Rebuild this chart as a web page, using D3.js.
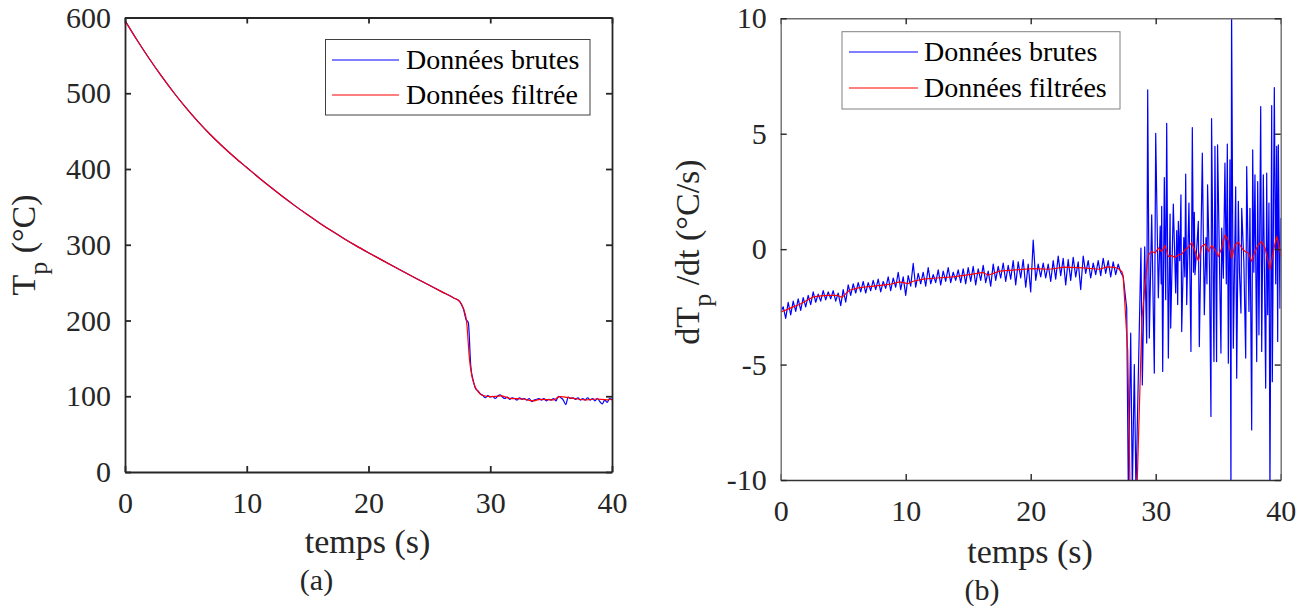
<!DOCTYPE html>
<html><head><meta charset="utf-8">
<script src="https://cdn.jsdelivr.net/npm/d3@7"></script>
<style>body{margin:0;background:#fff}</style>
</head><body><svg id="c" width="1309" height="611"></svg>
<script>
// ---------- DATA ----------
const xTicks = [0, 10, 20, 30, 40];
const tempTicks = [0, 100, 200, 300, 400, 500, 600];
const derivTicks = [-10, -5, 0, 5, 10];

// (a) filtered temperature Tp (°C)
const filtTempT = [0,1,2,3,4,5,6,7,8,9,10,11,12,13,14,15,16,17,18,19,20,21,22,23,24,25,26,27,27.5,27.8,28.06,28.3,28.5,28.75,29.0,29.3,30.0,30.9,31.6,32.7,33.5,34.1,35.2,35.7,36.8,37.9,38.7,39.6,40];
const filtTempV = [596,570,545.5,522.5,501,481,462.5,445.5,430,415.5,402,388.5,375.5,363,351,339.5,328.5,318,308,298.5,289.5,280.7,272,263.4,254.9,246.5,238.1,229.8,225,216,198,148,126,113,106,101.7,99.5,100.4,97.3,96.4,93.8,96,95.1,99.5,97.3,95.1,96.4,95.1,96.4];
// (a) raw temperature tail, from 27.6 s every 0.2 s (before that raw = filtered)
const rawTempTailStart = 27.6, rawTempTailStep = 0.2;
const rawTempTail = [222,215,202,197,140,121,110,107,103,101,98,101,99,100,97,100,102,99,97,99,96,98,97,95,98,96,97,95,97,93,95,96,97,95,97,94,96,95,97,94,100,98,95,89,99,97,98,96,98,95,97,95,98,95,97,94,97,93,90,95,92,97,95];

// (b) raw derivative dTp/dt (°C/s), 0 .. 27.4 s every 0.2 s
const rawDerivStep = 0.2;
const rawDerivEarly = [
-2.72,-2.50,-3.00,-2.30,-2.85,-2.25,-2.70,-2.15,-2.65,-2.10,
-2.50,-2.00,-2.40,-1.85,-2.30,-1.95,-2.25,-1.80,-2.20,-1.85,
-2.15,-1.80,-2.25,-1.90,-2.45,-1.75,-2.30,-1.55,-2.00,-1.50,
-1.90,-1.45,-1.85,-1.40,-1.90,-1.45,-1.80,-1.35,-1.75,-1.30,
-1.85,-1.40,-1.70,-1.20,-1.80,-1.25,-1.65,-1.00,-1.75,-1.20,
-2.00,-1.15,-1.60,-0.62,-1.65,-1.05,-1.50,-1.00,-1.60,-0.80,
-1.50,-1.10,-1.45,-0.90,-1.55,-0.95,-1.40,-0.80,-1.45,-1.00,
-1.35,-0.90,-1.45,-0.85,-1.50,-0.80,-1.40,-0.75,-1.55,-0.85,
-1.35,-0.70,-1.45,-0.95,-1.60,-0.65,-1.35,-0.75,-1.25,-0.60,
-1.40,-0.70,-1.30,-0.50,-1.55,-0.55,-1.25,-0.45,-1.65,-0.65,
-1.85,0.39,-1.35,-0.65,-1.20,-0.60,-1.25,-0.65,-1.40,-0.50,
-1.30,-0.30,-1.15,-0.40,-1.55,-0.45,-1.35,-0.35,-1.20,-0.55,
-1.75,-0.30,-1.05,-0.50,-1.25,-0.60,-1.10,-0.50,-1.15,-0.40,
-1.05,-0.50,-1.20,-0.55,-1.10,-0.65,-1.00,-1.20];
// (b) raw derivative after 27.4 s
const rawDerivLateT = [27.68,27.81,28.0,28.13,28.29,28.42,28.82,28.93,29.12,29.28,29.36,29.49,29.68,29.89,30.0,30.21,30.36,30.44,30.48,30.56,30.69,30.8,30.88,31.01,31.15,31.2,31.41,31.6,31.68,31.76,31.81,31.92,32.02,32.08,32.25,32.33,32.4,32.48,32.66,32.82,32.93,33.02,33.09,33.14,33.3,33.41,33.49,33.73,33.89,34.02,34.1,34.15,34.3,34.42,34.47,34.66,34.74,34.87,34.95,35.1,35.22,35.28,35.41,35.54,35.65,35.73,35.81,35.94,36.02,36.07,36.21,36.4,36.48,36.61,36.7,36.82,36.88,37.05,37.2,37.28,37.46,37.54,37.68,37.76,37.85,37.94,38.08,38.16,38.26,38.4,38.48,38.61,38.8,38.88,38.96,39.06,39.14,39.28,39.33,39.49,39.6,39.68,39.76,39.81,39.94,40.0];
const rawDerivLateV = [-2.56,-10.5,-3.64,-10.5,-5.0,-10.5,0.05,-5.88,0.1,-4.07,6.9,-3.85,1.49,-5.37,5.02,-2.11,1.0,-1.5,1.85,-5.3,3.1,-2.19,5.45,-4.72,1.52,-3.42,1.95,-1.9,0.8,-2.4,1.2,-0.5,2.35,-3.57,0.5,-1.2,3.25,-2.4,2.0,-4.43,5.27,-1.0,1.59,-1.11,0.2,1.2,-4.22,4.16,-2.84,0.5,-1.5,2.78,-0.8,-7.25,5.65,-4.87,4.45,-4.87,4.52,-0.5,-4.5,0.91,-1.26,3.73,-1.5,4.55,-4.94,3.87,-10.5,10.5,-4.29,2.7,-5.59,2.07,-1.0,-2.77,1.77,-0.5,-4.72,3.58,-2.7,1.77,-7.83,4.3,-1.0,3.22,-4.87,2.93,-3.71,6.18,-4.43,3.22,-6.02,3.29,-2.84,2.0,-10.5,6.22,-5.74,7.0,-1.5,4.45,-4.0,4.52,-2.56,1.35];

// (b) filtered derivative
const filtDerivT = [0,0.5,1.0,1.5,2.0,2.6,3.2,3.8,4.5,4.9,5.5,6.2,6.9,7.8,8.7,9.5,10.2,10.6,11.4,12.5,13.8,15.1,16.2,16.6,17.5,18.8,20.2,21.5,22.7,24.2,25.5,26.1,26.7,27.0,27.3,27.4,27.76,27.95,28.5,28.9,29.3,29.41,29.68,29.95,30.21,30.48,30.75,31.01,31.28,31.55,31.81,32.08,32.35,32.61,32.88,33.15,33.41,33.68,33.95,34.21,34.48,34.75,35.01,35.28,35.55,35.81,36.08,36.35,36.61,36.88,37.15,37.41,37.68,37.95,38.21,38.48,38.75,39.15,39.41,39.68,39.95,40.0];
const filtDerivV = [-2.72,-2.62,-2.50,-2.40,-2.25,-2.07,-2.02,-2.00,-2.00,-2.09,-1.78,-1.68,-1.63,-1.58,-1.53,-1.42,-1.49,-1.39,-1.30,-1.25,-1.20,-1.10,-1.01,-1.13,-0.95,-0.90,-0.84,-0.87,-0.78,-0.81,-0.87,-0.77,-0.79,-0.84,-0.98,-1.18,-4.4,-10.5,-10.5,-3.0,-0.68,-0.25,-0.10,-0.17,0.05,-0.10,0.16,-0.32,-0.28,-0.36,-0.25,-0.22,-0.03,0.07,0.30,-0.10,-0.51,0.12,0.22,-0.10,0.16,-0.03,-0.32,0.05,0.62,0.36,-0.39,0.19,0.30,0.05,-0.10,-0.17,-0.53,-0.10,0.19,0.33,0.05,-0.89,-0.10,0.55,-0.10,-0.30];

// ---------- BUILD SERIES ----------
const filtTemp = d3.zip(filtTempT, filtTempV);
const rawTemp = filtTemp.filter(d => d[0] <= 27.5)
  .concat(rawTempTail.map((v, i) => [rawTempTailStart + i * rawTempTailStep, v]));
const rawDeriv = rawDerivEarly.map((v, i) => [i * rawDerivStep, v])
  .concat(d3.zip(rawDerivLateT, rawDerivLateV));
const filtDeriv = d3.zip(filtDerivT, filtDerivV);

const FONT = "'Liberation Serif', 'Times New Roman', Times, Tinos, 'Nimbus Roman', 'DejaVu Serif', serif";
const svg = d3.select("#c").attr("font-family", FONT);
svg.append("rect").attr("width", 1309).attr("height", 611).attr("fill", "#fff");

function drawPanel(p) {
  const x = d3.scaleLinear().domain([0, 40]).range([p.left, p.right]);
  const y = d3.scaleLinear().domain(p.yDomain).range([p.bottom, p.top]);
  const g = svg.append("g");
  g.append("clipPath").attr("id", "clip" + p.id).append("rect")
    .attr("x", p.left).attr("y", p.top).attr("width", p.right - p.left).attr("height", p.bottom - p.top);
  const line = d3.line().x(d => x(d[0])).y(d => y(d[1])).curve(p.curve);
  const dg = g.append("g").attr("clip-path", `url(#clip${p.id})`);
  dg.append("path").datum(p.raw).attr("d", line).attr("fill", "none").attr("stroke", "#0000ff").attr("stroke-width", 1.2).attr("stroke-linejoin", "round");
  dg.append("path").datum(p.filt).attr("d", line).attr("fill", "none").attr("stroke", "#ff0000").attr("stroke-width", 1.2).attr("stroke-linejoin", "round");

  const style = (sel, color) => {
    sel.attr("font-family", FONT).attr("font-size", 30);
    sel.select(".domain").attr("stroke", color).attr("stroke-width", p.axisW);
    sel.selectAll(".tick line").attr("stroke", "#262626").attr("stroke-width", p.axisW);
    sel.selectAll(".tick text").attr("font-size", 30).attr("fill", "#262626").attr("font-family", FONT);
  };
  const fmt = d => String(d);
  g.append("g").attr("transform", `translate(0,${p.bottom})`)
    .call(d3.axisBottom(x).tickValues(xTicks).tickSizeInner(-6).tickSizeOuter(0).tickPadding(20).tickFormat(fmt))
    .call(s => style(s, p.bottomColor));
  g.append("g").attr("transform", `translate(0,${p.top})`)
    .call(d3.axisTop(x).tickValues(xTicks).tickSizeInner(-6).tickSizeOuter(0).tickFormat(""))
    .call(s => style(s, p.boxColor));
  g.append("g").attr("transform", `translate(${p.left},0)`)
    .call(d3.axisLeft(y).tickValues(p.yTicks).tickSizeInner(-6).tickSizeOuter(0).tickPadding(14).tickFormat(fmt))
    .call(s => style(s, p.boxColor));
  g.append("g").attr("transform", `translate(${p.right},0)`)
    .call(d3.axisRight(y).tickValues(p.yTicks).tickSizeInner(-6).tickSizeOuter(0).tickFormat(""))
    .call(s => style(s, p.boxColor));

  // x label and panel tag
  g.append("text").attr("x", p.xlab[0]).attr("y", p.xlab[1]).attr("text-anchor", "middle")
    .attr("font-family", FONT).attr("font-size", 34).attr("fill", "#262626").text("temps (s)");
  g.append("text").attr("x", p.tag[0]).attr("y", p.tag[1]).attr("text-anchor", "middle")
    .attr("font-family", FONT).attr("font-size", 30).attr("fill", "#262626").text(p.tagText);

  // y label with subscript
  const yl = g.append("text").attr("transform", `translate(${p.ylab[0]},${p.ylab[1]}) rotate(-90)`)
    .attr("text-anchor", "middle").attr("font-family", FONT).attr("font-size", 34).attr("fill", "#262626");
  yl.append("tspan").text(p.ylabParts[0]);
  yl.append("tspan").attr("dy", 12).attr("font-size", 26).text("p");
  yl.append("tspan").attr("dy", -12).text(p.ylabParts[1]);

  // legend
  const L = p.legend;
  g.append("rect").attr("x", L.x0).attr("y", L.y0).attr("width", L.x1 - L.x0).attr("height", L.y1 - L.y0)
    .attr("fill", "#fff").attr("stroke", L.stroke).attr("stroke-width", 1);
  const items = [{ c: "#0000ff", t: L.labels[0], ry: L.rows[0] }, { c: "#ff0000", t: L.labels[1], ry: L.rows[1] }];
  items.forEach(it => {
    g.append("line").attr("x1", L.lx0).attr("x2", L.lx1).attr("y1", it.ry).attr("y2", it.ry)
      .attr("stroke", it.c).attr("stroke-width", 1.2);
    g.append("text").attr("x", L.tx).attr("y", it.ry + 9).attr("font-family", FONT)
      .attr("font-size", 28).attr("fill", "#000").text(it.t);
  });
}

drawPanel({
  id: "a", left: 125, right: 612, top: 17.5, bottom: 472, curve: d3.curveMonotoneX,
  yDomain: [0, 600], yTicks: tempTicks, raw: rawTemp, filt: filtTemp,
  axisW: 1.8, boxColor: "#262626", bottomColor: "#262626",
  xlab: [367.5, 553], tag: [316.5, 590], tagText: "(a)",
  ylab: [35, 245], ylabParts: ["T", " (°C)"],
  legend: { x0: 325.5, x1: 590, y0: 39.5, y1: 115, stroke: "#404040", lx0: 332, lx1: 399, tx: 406, rows: [60, 95],
            labels: ["Données brutes", "Données filtrée"] }
});
drawPanel({
  id: "b", left: 780.7, right: 1280.7, top: 18.3, bottom: 480, curve: d3.curveLinear,
  yDomain: [-10, 10], yTicks: derivTicks, raw: rawDeriv, filt: filtDeriv,
  axisW: 1.4, boxColor: "#6e6e6e", bottomColor: "#333333",
  xlab: [1030, 563], tag: [982, 600], tagText: "(b)",
  ylab: [699, 252], ylabParts: ["dT", " /dt (°C/s)"],
  legend: { x0: 842, x1: 1120, y0: 31.7, y1: 109, stroke: "#808080", lx0: 849, lx1: 918, tx: 924, rows: [52, 88],
            labels: ["Données brutes", "Données filtrées"] }
});
</script></body></html>
